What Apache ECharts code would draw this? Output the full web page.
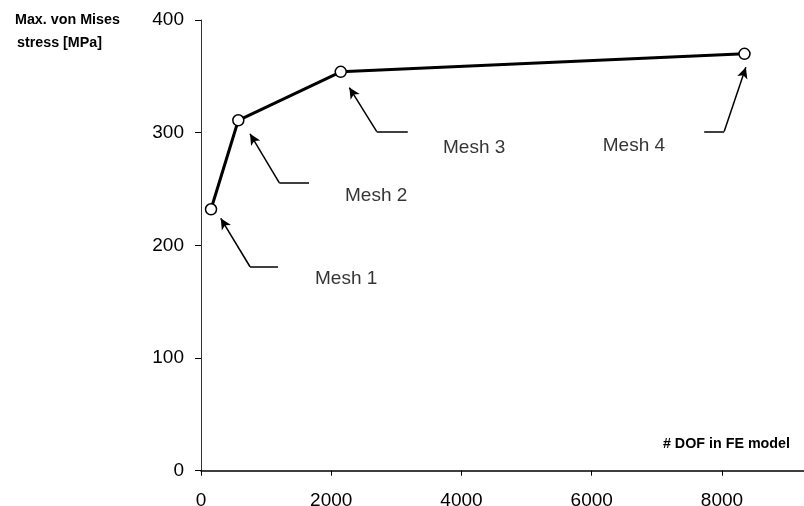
<!DOCTYPE html>
<html><head><meta charset="utf-8">
<script src="https://cdn.jsdelivr.net/npm/echarts@6/dist/echarts.min.js"></script>
<style>html,body{margin:0;padding:0;background:#fff}#c{width:804px;height:506px}</style>
</head><body><div id="c"></div>
<script>
// Data
const meshNames = ['Mesh 1', 'Mesh 2', 'Mesh 3', 'Mesh 4'];
const dof = [154, 573, 2146, 8346];
const stress = [232, 311, 354, 370];
const xTicks = [0, 2000, 4000, 6000, 8000];
const yTicks = [0, 100, 200, 300, 400];
// Annotation anchors in data units: label position, leader end, bend, arrow tip
const labelPos = [[1751, 170], [2212, 244], [3717, 287], [6170, 288]];
const leaderEnd = [[1183, 181], [1659, 255.5], [3175, 301], [7727, 301]];
const leaderBend = [[753, 181], [1203, 255.5], [2699, 301], [8034, 301]];
const arrowTip = [[303, 224], [753, 299], [2278, 340], [8367, 358]];

const FONT = 'Liberation Sans, Arial, Helvetica, sans-serif';
const chart = echarts.init(document.getElementById('c'), null, {renderer: 'canvas'});

const markData = [];
for (let i = 0; i < meshNames.length; i++) {
  markData.push([{coord: leaderEnd[i], symbol: 'none'}, {coord: leaderBend[i], symbol: 'none'}]);
  markData.push([{coord: leaderBend[i], symbol: 'none'}, {coord: arrowTip[i], symbol: 'arrow'}]);
}

chart.setOption({
  animation: false,
  backgroundColor: '#fff',
  grid: {left: 201, top: 20, right: 0, bottom: 35.3, containLabel: false, outerBoundsMode: 'none'},
  xAxis: {
    type: 'value', min: 0, max: 9260,
    splitLine: {show: false},
    axisLine: {show: true, onZero: false, lineStyle: {color: '#000', width: 1.5}},
    axisTick: {show: true, length: 5, customValues: xTicks, lineStyle: {color: '#000', width: 1}},
    axisLabel: {customValues: xTicks, margin: 21, color: '#000', fontSize: 19, fontFamily: FONT,
                formatter: v => String(v)}
  },
  yAxis: {
    type: 'value', min: 0, max: 400, interval: 100,
    splitLine: {show: false},
    axisLine: {show: true, lineStyle: {color: '#333', width: 1}},
    axisTick: {show: true, length: 6, lineStyle: {color: '#000', width: 1}},
    axisLabel: {margin: 17, color: '#000', fontSize: 19, fontFamily: FONT, formatter: v => String(v)}
  },
  graphic: [
    {type: 'text', left: 15, top: 13, style: {text: 'Max. von Mises', font: 'bold 14.3px ' + FONT, fill: '#000'}},
    {type: 'text', left: 17, top: 36, style: {text: 'stress [MPa]', font: 'bold 14.3px ' + FONT, fill: '#000'}},
    {type: 'text', right: 14, top: 437, style: {text: '# DOF in FE model', font: 'bold 14.3px ' + FONT, fill: '#000'}}
  ],
  series: [
    {
      type: 'line',
      data: dof.map((d, i) => [d, stress[i]]),
      lineStyle: {color: '#000', width: 3},
      symbol: 'circle', symbolSize: 11, showAllSymbol: true,
      itemStyle: {color: '#fff', borderColor: '#000', borderWidth: 1.5},
      z: 3
    },
    {
      type: 'scatter',
      data: labelPos.map((p, i) => [p[0], p[1], meshNames[i]]),
      symbolSize: 0,
      silent: true,
      label: {show: true, position: 'right', distance: 0, formatter: p => p.data[2],
              color: '#000', fontSize: 19, fontFamily: FONT},
      markLine: {
        silent: true, animation: false,
        symbol: ['none', 'arrow'], symbolSize: [8, 11],
        label: {show: false},
        lineStyle: {color: '#000', width: 1.5, type: 'solid'},
        emphasis: {disabled: true},
        data: markData
      }
    }
  ]
});
</script></body></html>
